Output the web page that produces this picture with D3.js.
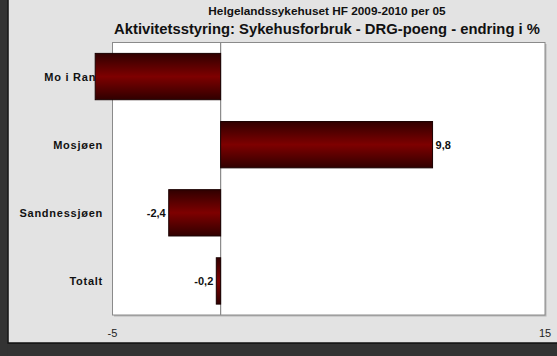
<!DOCTYPE html>
<html><head><meta charset="utf-8">
<script src="https://cdn.jsdelivr.net/npm/d3@7"></script>
<style>html,body{margin:0;padding:0;background:#333333;overflow:hidden;}svg{display:block;font-family:"Liberation Sans",Arial,sans-serif;}</style>
</head><body>
<svg id="c" width="557" height="356"></svg>
<script>
const categories = ["Mo i Rana", "Mosjøen", "Sandnessjøen", "Totalt"];
const values = [-5.8, 9.8, -2.4, -0.2];
const tickValues = [-5, 15];
const supTitle = "Helgelandssykehuset HF 2009-2010 per 05";
const mainTitle = "Aktivitetsstyring: Sykehusforbruk - DRG-poeng - endring i %";

const svg = d3.select("#c");
const W = 557, H = 356;
const plot = {l: 112.5, r: 545, t: 42.5, b: 315};

// background panel
svg.append("rect").attr("x",0).attr("y",0).attr("width",W).attr("height",H).attr("fill","#333333");
svg.append("rect").attr("x",8).attr("y",-2).attr("width",W).attr("height",345)
  .attr("fill","#e3e3e3").attr("stroke","#111").attr("stroke-width",1.5);
svg.append("rect").attr("x",0).attr("y",344).attr("width",W).attr("height",12).attr("fill","#333333");
svg.append("rect").attr("x",0).attr("y",0).attr("width",7.2).attr("height",H).attr("fill","#333333");

// titles
svg.append("text").attr("x",327).attr("y",15).attr("text-anchor","middle")
  .attr("font-size",11.8).attr("font-weight","bold").attr("fill","#111").text(supTitle);
svg.append("text").attr("x",327).attr("y",34).attr("text-anchor","middle")
  .attr("font-size",14.8).attr("font-weight","bold").attr("fill","#111").text(mainTitle);

const x = d3.scaleLinear().domain([-5,15]).range([plot.l, plot.r]);
const y = d3.scaleBand().domain(categories).range([plot.t, plot.b]).paddingInner(0.32).paddingOuter(0.16);

// plot area with shadow
svg.append("rect").attr("x",plot.l+1.5).attr("y",plot.t+1.5).attr("width",plot.r-plot.l).attr("height",plot.b-plot.t)
  .attr("fill","#b5b5b5");
svg.append("rect").attr("x",plot.l).attr("y",plot.t).attr("width",plot.r-plot.l).attr("height",plot.b-plot.t)
  .attr("fill","#ffffff").attr("stroke","#8a8a8a").attr("stroke-width",1);

// gradient
const defs = svg.append("defs");
const g = defs.append("linearGradient").attr("id","barGrad").attr("x1",0).attr("y1",0).attr("x2",0).attr("y2",1);
g.append("stop").attr("offset","0%").attr("stop-color","#300000");
g.append("stop").attr("offset","50%").attr("stop-color","#7e0000");
g.append("stop").attr("offset","100%").attr("stop-color","#300000");

// category labels (drawn under bars)
svg.append("g").selectAll("text").data(categories).join("text")
  .attr("x",103).attr("y",d=>y(d)+y.bandwidth()/2+4)
  .attr("text-anchor","end").attr("font-size",11).attr("font-weight","bold").attr("fill","#111")
  .attr("letter-spacing",0.75).text(d=>d);

// zero line
svg.append("line").attr("x1",x(0)).attr("x2",x(0)).attr("y1",plot.t).attr("y2",plot.b)
  .attr("stroke","#8a8a8a").attr("stroke-width",1.2);

// bars
const data = categories.map((c,i)=>({c, v: values[i]}));
svg.append("g").selectAll("rect").data(data).join("rect")
  .attr("x",d=>Math.min(x(0),x(d.v))).attr("y",d=>y(d.c))
  .attr("width",d=>Math.abs(x(d.v)-x(0))).attr("height",y.bandwidth())
  .attr("fill","url(#barGrad)").attr("stroke","#1a0000").attr("stroke-width",1);

// value labels (only those inside plot area)
const fmt = v => (v < 0 ? "-" : "") + Math.abs(v).toFixed(1).replace(".",",");
svg.append("g").selectAll("text").data(data.filter(d=>x(d.v)>=plot.l)).join("text")
  .attr("x",d=>d.v>=0 ? x(d.v)+3 : x(d.v)-3)
  .attr("y",d=>y(d.c)+y.bandwidth()/2+4)
  .attr("text-anchor",d=>d.v>=0?"start":"end")
  .attr("font-size",11).attr("font-weight","bold").attr("fill","#111").text(d=>fmt(d.v));

// x axis tick labels
svg.append("g").selectAll("text").data(tickValues).join("text")
  .attr("x",d=>x(d)).attr("y",337).attr("text-anchor","middle")
  .attr("font-size",11).attr("fill","#222").text(d=>d);
</script>
</body></html>
